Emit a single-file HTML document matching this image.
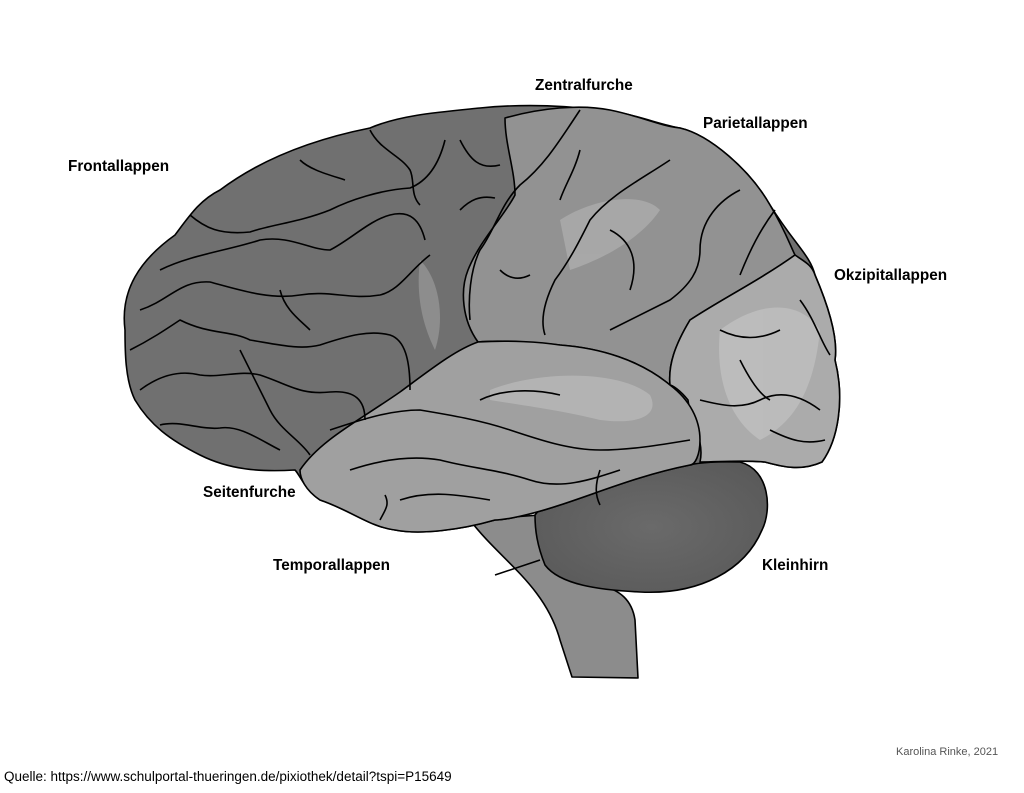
<!DOCTYPE html>
<html><head><meta charset="utf-8"><style>
html,body{margin:0;padding:0;background:#fff;}
body{width:1024px;height:793px;position:relative;overflow:hidden;font-family:"Liberation Sans",Arial,sans-serif;}
.l{position:absolute;font-weight:bold;font-size:15.3px;color:#000;white-space:nowrap;}
</style></head><body>
<svg width="1024" height="793" style="position:absolute;left:0;top:0">
<defs>
<radialGradient id="cb" cx="0.5" cy="0.5" r="0.6"><stop offset="0" stop-color="#6a6a6a"/><stop offset="1" stop-color="#5a5a5a"/></radialGradient>
</defs>
<g stroke="#000" stroke-width="1.6" stroke-linejoin="round" fill="none">
<path d="M470,520 C500,560 545,585 560,640 L572,677 L638,678 L635,620 C632,600 620,590 600,585 L560,565 L540,515 Z" fill="#8c8c8c"/>
<path d="M495,575 L540,560" />
<path d="M535,515 C560,480 650,460 740,462 C770,470 772,510 762,530 C745,570 700,595 640,592 C600,590 560,585 545,565 C537,545 535,530 535,515 Z" fill="url(#cb)"/>
<path d="M125,330 C120,290 140,260 175,235 C190,215 200,200 220,190 C260,160 310,140 370,128 C400,115 440,112 480,108 C520,104 560,105 600,110 C630,112 660,125 680,128 C710,135 750,170 770,205 C795,245 810,255 815,275 C830,310 838,340 835,360 C845,400 838,440 822,462 C800,472 780,466 765,462 C740,460 700,462 690,465 C640,475 600,492 560,505 C530,515 505,520 495,520 C460,530 420,535 395,530 C370,527 350,510 320,500 C305,490 300,475 295,470 C260,472 230,470 200,455 C170,440 150,425 135,400 C125,380 125,350 125,330 Z" fill="#707070"/>
<path d="M505,118 C540,108 580,104 610,110 C640,116 660,126 680,128 C710,135 750,170 770,205 C785,230 790,245 795,255 C760,280 720,300 690,320 C675,345 668,365 670,385 C640,360 600,348 560,345 C530,342 500,340 478,342 C462,320 460,290 468,270 C480,240 505,215 515,195 C515,170 505,145 505,118 Z" fill="#929292"/>
<path d="M795,255 C805,262 812,265 815,275 C830,310 838,340 835,360 C845,400 838,440 822,462 C800,472 780,466 765,462 C740,460 720,462 700,462 C705,440 690,420 688,400 C680,390 672,385 670,385 C668,365 675,345 690,320 C720,300 760,280 795,255 Z" fill="#ababab"/>
<path d="M300,470 C320,440 360,420 400,392 C430,370 455,350 478,342 C510,340 540,342 560,345 C600,348 640,360 670,385 C690,400 700,420 700,440 C700,455 695,465 690,465 C640,475 600,492 560,505 C530,515 505,520 495,520 C460,530 420,535 395,530 C370,527 350,510 320,500 C305,490 300,478 300,470 Z" fill="#a0a0a0"/>
<g stroke="none" opacity="0.2" fill="#fff">
<path d="M490,390 C540,370 620,370 650,395 C660,415 640,425 600,420 C560,410 520,405 490,400 Z"/>
<path d="M560,220 C590,200 640,190 660,210 C640,240 600,260 570,270 Z"/>
<path d="M720,330 C760,300 800,300 820,330 C815,380 800,420 760,440 C730,420 715,380 720,330 Z"/>
<path d="M420,260 C440,280 445,320 435,350 C425,330 415,300 420,260 Z"/>
</g>
<path d="M190,215 C205,228 220,235 250,232 C270,225 300,222 330,210 C350,200 380,190 410,188 C430,180 440,160 445,140"/>
<path d="M160,270 C190,255 230,250 260,240 C290,235 310,250 330,250 C350,240 370,220 390,215 C410,210 420,220 425,240"/>
<path d="M140,310 C170,300 180,280 210,282 C240,290 270,300 300,295 C330,290 350,300 380,295 C400,290 410,270 430,255"/>
<path d="M130,350 C150,340 165,330 180,320 C210,335 230,330 250,340 C280,345 300,350 320,345 C350,335 370,330 390,335 C405,340 410,360 410,390"/>
<path d="M140,390 C160,375 180,370 200,375 C220,378 240,370 260,375 C290,385 300,395 330,392 C355,390 365,400 365,420"/>
<path d="M160,425 C180,420 200,430 220,428 C240,425 260,440 280,450"/>
<path d="M240,350 C250,370 260,390 270,410 C280,430 300,440 310,455"/>
<path d="M370,130 C380,150 400,155 410,170 C415,180 410,195 420,205"/>
<path d="M300,160 C310,170 330,175 345,180"/>
<path d="M460,140 C470,160 480,170 500,165"/>
<path d="M460,210 C470,200 480,195 495,198"/>
<path d="M280,290 C285,310 300,320 310,330"/>
<path d="M580,110 C560,140 545,165 520,185 C500,205 495,230 480,250 C470,270 468,300 470,320" />
<path d="M670,160 C640,180 610,195 590,220 C580,240 570,260 555,280 C545,300 540,320 545,335"/>
<path d="M740,190 C720,200 700,220 700,250 C700,270 690,285 670,300 C650,310 630,320 610,330"/>
<path d="M610,230 C630,240 640,260 630,290"/>
<path d="M500,270 C510,280 520,280 530,275"/>
<path d="M775,210 C760,230 750,250 740,275"/>
<path d="M580,150 C575,170 565,185 560,200"/>
<path d="M720,330 C740,340 760,340 780,330"/>
<path d="M800,300 C815,320 820,340 830,355"/>
<path d="M700,400 C720,405 740,410 760,400 C780,390 800,395 820,410"/>
<path d="M770,430 C790,440 805,445 825,440"/>
<path d="M740,360 C750,380 760,395 770,400"/>
<path d="M330,430 C360,420 390,410 420,410 C450,415 480,420 510,430 C540,440 570,450 600,450 C630,450 660,445 690,440"/>
<path d="M350,470 C380,460 410,455 440,460 C470,468 500,470 530,480 C560,490 590,480 620,470"/>
<path d="M400,500 C430,490 460,495 490,500"/>
<path d="M480,400 C500,390 530,388 560,395"/>
<path d="M380,520 C385,510 390,505 385,495"/>
<path d="M600,470 C595,485 595,495 600,505"/>
</g>
</svg>
<div class="l" style="left:535px;top:77px">Zentralfurche</div>
<div class="l" style="left:703px;top:115px">Parietallappen</div>
<div class="l" style="left:68px;top:158px">Frontallappen</div>
<div class="l" style="left:834px;top:267px">Okzipitallappen</div>
<div class="l" style="left:203px;top:484px">Seitenfurche</div>
<div class="l" style="left:273px;top:557px">Temporallappen</div>
<div class="l" style="left:762px;top:557px">Kleinhirn</div>
<div style="position:absolute;left:896px;top:746px;font-size:11px;color:#555">Karolina Rinke, 2021</div>
<div style="position:absolute;left:4px;top:769px;font-size:13.5px;color:#000">Quelle: https://www.schulportal-thueringen.de/pixiothek/detail?tspi=P15649</div>
</body></html>
